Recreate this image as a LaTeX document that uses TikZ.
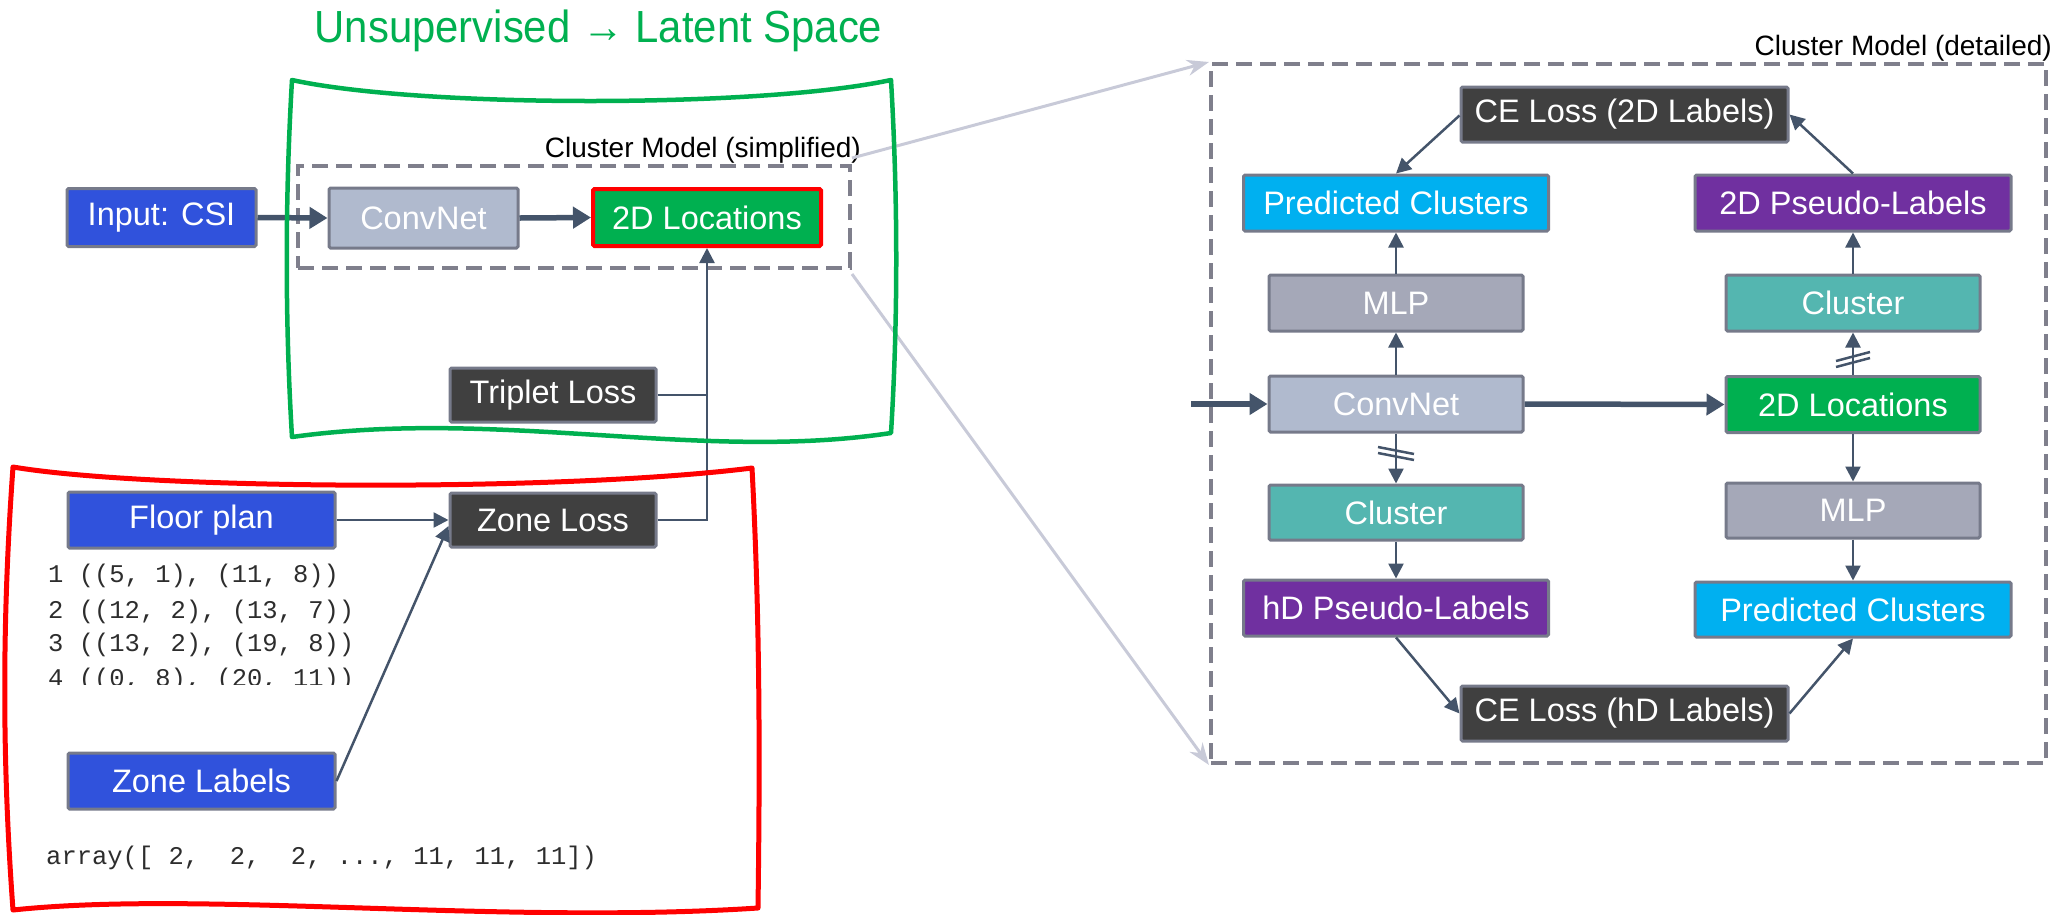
\documentclass[tikz,border=0pt]{standalone}
\usepackage{fontspec}
\setmainfont{Liberation Sans}
\setmonofont{Liberation Mono}
\newfontfamily\titlefont[FakeStretch=0.93]{Liberation Sans}
\usetikzlibrary{arrows.meta}

\definecolor{cBlue}{RGB}{48,82,220}
\definecolor{cBorder}{RGB}{118,122,138}
\definecolor{cConv}{RGB}{176,186,206}
\definecolor{cGreen}{RGB}{0,176,80}
\definecolor{cMLP}{RGB}{165,168,184}
\definecolor{cTeal}{RGB}{84,182,176}
\definecolor{cCyan}{RGB}{0,176,240}
\definecolor{cPurple}{RGB}{112,48,160}
\definecolor{cDark}{RGB}{64,64,64}
\definecolor{cArrow}{RGB}{68,84,106}
\definecolor{cLight}{RGB}{200,202,216}
\definecolor{cDash}{RGB}{127,127,140}
\definecolor{cRed}{RGB}{255,0,0}
\definecolor{cCode}{RGB}{45,45,45}

\begin{document}
\begin{tikzpicture}[x=1pt,y=-1pt,
  box/.style={draw=cBorder, line width=3pt, rounded corners=1.5pt, text=white, inner sep=0pt,
    font=\fontsize{32.5}{38}\selectfont, align=center},
  sz/.style 2 args={minimum width=#1, minimum height=#2},
  dbox/.style={draw=cDash, line width=4pt, dash pattern=on 16pt off 8pt, inner sep=0pt},
  ar/.style={draw=cArrow, line width=2.5pt, -{Triangle[length=15pt,width=15pt]}},
  arline/.style={draw=cArrow, line width=2.5pt},
  tarrow/.style={draw=cArrow, line width=5.5pt, -{Triangle[length=18pt,width=21pt]}},
  gconn/.style={draw=cLight, line width=3pt, -{Stealth[length=22pt,width=16pt]}},
  slash/.style={draw=cArrow, line width=2.5pt},
  code/.style={font=\fontsize{25.5}{30}\ttfamily, text=cCode, inner sep=0pt, anchor=base west},
  lbl/.style={font=\fontsize{28}{34}\selectfont, text=black, inner sep=0pt, anchor=base east}
]
\useasboundingbox (0,0) rectangle (2059,914);

% ---------- title and labels ----------
\node[font=\titlefont\fontsize{45}{52}\selectfont, text=cGreen, inner sep=0pt, anchor=base] (title) at (598.5,42) {Unsupervised → Latent Space};
\node[lbl] (lsimp) at (861,157) {Cluster Model (simplified)};
\node[lbl] (ldet) at (2052,55) {Cluster Model (detailed)};

% ---------- dashed frames ----------
\node[dbox, sz={552pt}{102pt}] (simp) at (574,217) {};
\node[dbox, sz={835pt}{699pt}] (det) at (1628.5,413.5) {};

% ---------- left boxes ----------
\node[box, fill=cBlue, sz={189pt}{58pt}] (inp) at (161.5,217.5) {Input: CSI};
\node[box, fill=cConv, sz={189pt}{60pt}] (conv1) at (423.5,218) {ConvNet};
\node[box, fill=cGreen, draw=cRed, line width=4pt, sz={228pt}{57pt}] (loc1) at (707,217.5) {2D Locations};
\node[box, fill=cDark, sz={206pt}{54pt}] (trip) at (553,395) {Triplet Loss};
\node[box, fill=cDark, sz={206pt}{54pt}] (zone) at (553,520) {Zone Loss};
\node[box, fill=cBlue, sz={267pt}{56pt}] (floor) at (201.5,520) {Floor plan};
\node[box, fill=cBlue, sz={267pt}{56pt}] (zlab) at (201.5,781) {Zone Labels};

% ---------- code text ----------
\node[code] (c1) at (48,582.7) {1 ((5, 1), (11, 8))};
\node[code] (c2) at (48,618.3) {2 ((12, 2), (13, 7))};
\node[code] (c3) at (48,651.7) {3 ((13, 2), (19, 8))};
\begin{scope}
  \clip (0,655) rectangle (500,684);
  \node[code] (c4) at (48,686.5) {4 ((0, 8), (20, 11))};
\end{scope}
\node[code] (arr) at (46,864) {array([\ 2,\ \ 2,\ \ 2,\ ...,\ 11,\ 11,\ 11])};

% ---------- left connectors ----------
\draw[tarrow] (inp.east) -- (conv1.west);
\draw[tarrow] (conv1.east) -- (loc1.west);
\draw[arline] (trip.east) -- (trip.east -| loc1.south);
\draw[ar] (zone.east) -| (loc1.south);
\draw[ar] (floor.east) -- (zone.west);
\draw[ar] (zlab.east) -- ([yshift=-6pt]zone.west);

% ---------- right boxes ----------
\node[box, fill=cDark, sz={327pt}{55pt}] (ce2) at (1624.5,114.5) {CE Loss (2D Labels)};
\node[box, fill=cCyan, sz={305pt}{56pt}] (pc1) at (1396,203) {Predicted Clusters};
\node[box, fill=cPurple, sz={316pt}{56pt}] (pl2) at (1853,203) {2D Pseudo-Labels};
\node[box, fill=cMLP, sz={254pt}{56pt}] (mlp1) at (1396,303) {MLP};
\node[box, fill=cTeal, sz={254pt}{56pt}] (clu1) at (1853,303) {Cluster};
\node[box, fill=cConv, sz={254pt}{56pt}] (conv2) at (1396,404) {ConvNet};
\node[box, fill=cGreen, sz={254pt}{56pt}] (loc2) at (1853,404.5) {2D Locations};
\node[box, fill=cTeal, sz={254pt}{55pt}] (clu2) at (1396,512.5) {Cluster};
\node[box, fill=cMLP, sz={254pt}{55pt}] (mlp2) at (1853,510.5) {MLP};
\node[box, fill=cPurple, sz={305pt}{56pt}] (plh) at (1396,608) {hD Pseudo-Labels};
\node[box, fill=cCyan, sz={316pt}{55pt}] (pc2) at (1853,609.5) {Predicted Clusters};
\node[box, fill=cDark, sz={327pt}{55pt}] (ceh) at (1624.5,713.5) {CE Loss (hD Labels)};

% ---------- right connectors ----------
\coordinate (inarr) at (1191,404);
\draw[tarrow] (inarr) -- (conv2.west);
\draw[tarrow] (conv2.east) -- (loc2.west);
\draw[ar] (conv2.north) -- (mlp1.south);
\draw[ar] (mlp1.north) -- (pc1.south);
\draw[ar] ([yshift=-1pt]ce2.west) -- (pc1.north);
\draw[ar] (pl2.north) -- (ce2.east);
\draw[ar] (clu1.north) -- (pl2.south);
\draw[ar] (loc2.north) -- (clu1.south);
\draw[ar] (conv2.south) -- (clu2.north);
\draw[ar] (clu2.south) -- (plh.north);
\draw[ar] (plh.south) -- (ceh.west);
\draw[ar] (ceh.east) -- (pc2.south);
\draw[ar] (loc2.south) -- (mlp2.north);
\draw[ar] (mlp2.south) -- (pc2.north);

% stop-gradient marks
\coordinate (m1) at (1396,453);
\draw[slash] ([shift={(-18,-6)}]m1) -- ([shift={(18,1)}]m1);
\draw[slash] ([shift={(-18,0)}]m1) -- ([shift={(18,7)}]m1);
\coordinate (m2) at (1853,357);
\draw[slash] ([shift={(-17,4)}]m2) -- ([shift={(17,-5)}]m2);
\draw[slash] ([shift={(-17,10)}]m2) -- ([shift={(17,1)}]m2);

% ---------- zoom connectors ----------
\draw[gconn] ([yshift=6pt]simp.north east) -- (det.north west);
\draw[gconn] ([yshift=-4pt]simp.south east) -- (det.south west);

% ---------- wavy frames ----------
\draw[cGreen, line width=4.5pt, line join=round]
  (292,80) .. controls (420,108) and (760,108) .. (891,80)
  .. controls (898,200) and (898,320) .. (891,433)
  .. controls (700,462) and (500,408) .. (292,437)
  .. controls (285,320) and (285,200) .. cycle;
\draw[cRed, line width=5pt, line join=round]
  (13,467) .. controls (150,490) and (560,492) .. (752,468)
  .. controls (760,620) and (760,760) .. (758,908)
  .. controls (500,925) and (200,890) .. (13,910)
  .. controls (2,760) and (2,620) .. cycle;
\end{tikzpicture}
\end{document}
